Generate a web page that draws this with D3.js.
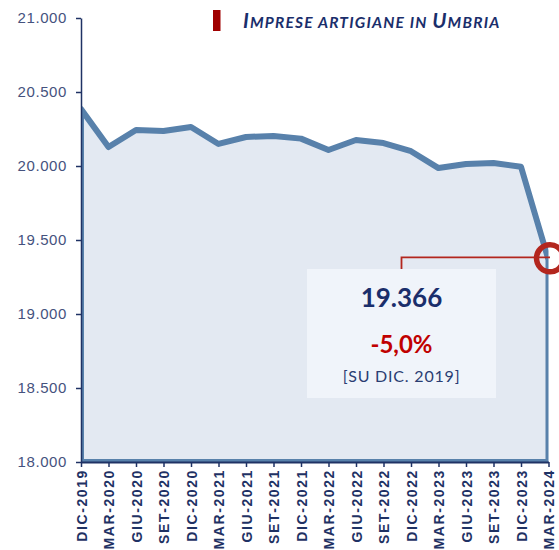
<!DOCTYPE html>
<html>
<head>
<meta charset="utf-8">
<script src="https://cdn.jsdelivr.net/npm/d3@7"></script>
<style>
  body { margin: 0; background: #fff; }
  svg { display: block; font-family: Lato, "Open Sans", sans-serif; }
</style>
</head>
<body>
<div id="chart"></div>
<script>
"use strict";

// categories (quarters) and number of artisan businesses
const periods = [
  "DIC-2019", "MAR-2020", "GIU-2020", "SET-2020", "DIC-2020", "MAR-2021",
  "GIU-2021", "SET-2021", "DIC-2021", "MAR-2022", "GIU-2022", "SET-2022",
  "DIC-2022", "MAR-2023", "GIU-2023", "SET-2023", "DIC-2023", "MAR-2024",
];
const imprese = [
  20385, 20128, 20243, 20236, 20264, 20149,
  20196, 20203, 20185, 20108, 20176, 20155,
  20100, 19986, 20014, 20020, 19995, 19366,
];
const yTicks = [18000, 18500, 19000, 19500, 20000, 20500, 21000];
const titleParts = [["I", "MPRESE ARTIGIANE IN "], ["U", "MBRIA"]];
const noteValue = "19.366";
const noteChange = "-5,0%";
const noteBase = "[SU DIC. 2019]";

const width = 559;
const height = 550;
const margin = { top: 18, right: 10.5, bottom: 88, left: 81 };

const it = d3.formatLocale({ decimal: ",", thousands: ".", grouping: [3], currency: ["", "€"] });
const fmt = it.format(",");

const svg = d3
  .select("#chart")
  .append("svg")
  .attr("width", width)
  .attr("height", height);

const x = d3
  .scalePoint()
  .domain(periods)
  .range([margin.left, width - margin.right]);

const y = d3
  .scaleLinear()
  .domain([18000, 21000])
  .range([height - margin.bottom, margin.top]);

const data = periods.map((p, i) => ({ p, v: imprese[i] }));

///////////////////////////////////
// area + line
///////////////////////////////////

svg
  .append("clipPath")
  .attr("id", "plot-clip")
  .append("rect")
  .attr("x", margin.left)
  .attr("y", 0)
  .attr("width", width - margin.right - margin.left)
  .attr("height", height - margin.bottom);

const area = d3
  .area()
  .x((d) => x(d.p))
  .y0(y(18000))
  .y1((d) => y(d.v));

svg
  .append("path")
  .datum(data)
  .attr("clip-path", "url(#plot-clip)")
  .attr("d", area)
  .attr("fill", "#e3e9f2")
  .attr("stroke", "#5881ab")
  .attr("stroke-width", 6)
  .attr("stroke-linejoin", "round");

///////////////////////////////////
// axes
///////////////////////////////////

const yAxis = svg
  .append("g")
  .attr("transform", `translate(${margin.left},0)`)
  .call(d3.axisLeft(y).tickValues(yTicks).tickFormat(fmt).tickSize(5).tickSizeOuter(0));
yAxis.select(".domain").attr("stroke", "#1f3264").attr("stroke-width", 1.5);
yAxis.selectAll(".tick line").attr("stroke", "#1f3264").attr("stroke-width", 1.5);
yAxis
  .selectAll(".tick text")
  .attr("x", -14)
  .attr("fill", "#45527e")
  .style("font-size", "15px")
  .style("letter-spacing", "0.6px");

const xAxis = svg
  .append("g")
  .attr("transform", `translate(0,${y(18000)})`)
  .call(d3.axisBottom(x).tickSize(5).tickSizeOuter(0));
xAxis.select(".domain").attr("stroke", "#1f3264").attr("stroke-width", 2);
xAxis.selectAll(".tick line").attr("stroke", "#1f3264").attr("stroke-width", 1.5);
xAxis
  .selectAll(".tick text")
  .attr("transform", "rotate(-90)")
  .attr("x", -7)
  .attr("y", 0)
  .attr("dy", "0.36em")
  .style("text-anchor", "end")
  .attr("fill", "#1f3264")
  .style("font-size", "14px")
  .style("font-weight", "900")
  .style("letter-spacing", "1.6px");

///////////////////////////////////
// title
///////////////////////////////////

svg
  .append("rect")
  .attr("x", 213)
  .attr("y", 10)
  .attr("width", 7.5)
  .attr("height", 21)
  .attr("fill", "#a00000");

const title = svg
  .append("text")
  .attr("x", 243)
  .attr("y", 27.5)
  .attr("fill", "#1a2e6b")
  .style("font-weight", "bold")
  .style("font-style", "italic")
  .style("letter-spacing", "1.2px");
titleParts.forEach(([big, small]) => {
  title.append("tspan").style("font-size", "20.5px").text(big);
  title.append("tspan").style("font-size", "15.5px").text(small);
});

///////////////////////////////////
// annotation
///////////////////////////////////

const last = data[data.length - 1];
const cx = x(last.p) + 1.5;
const cy = y(last.v) - 1.5;
const boxX = 307;
const boxY = 269;
const boxW = 189;
const boxH = 129;
const midX = boxX + boxW / 2;

svg
  .append("polyline")
  .attr("points", [[midX, boxY], [midX, cy - 1], [cx, cy - 1]].map((p) => p.join(",")).join(" "))
  .attr("fill", "none")
  .attr("stroke", "#b3261e")
  .attr("stroke-width", 1.8);

svg
  .append("rect")
  .attr("x", boxX)
  .attr("y", boxY)
  .attr("width", boxW)
  .attr("height", boxH)
  .attr("fill", "#f0f4fa");

svg
  .append("text")
  .attr("x", midX)
  .attr("y", 307)
  .attr("text-anchor", "middle")
  .attr("fill", "#1a2e6b")
  .style("font-size", "26px")
  .style("font-weight", "bold")
  .text(noteValue);

svg
  .append("text")
  .attr("x", midX)
  .attr("y", 353)
  .attr("text-anchor", "middle")
  .attr("fill", "#c00000")
  .style("font-size", "24px")
  .style("font-weight", "bold")
  .text(noteChange);

svg
  .append("text")
  .attr("x", midX)
  .attr("y", 382)
  .attr("text-anchor", "middle")
  .attr("fill", "#2a3d72")
  .style("font-size", "16px")
  .style("letter-spacing", "0.8px")
  .text(noteBase);

svg
  .append("circle")
  .attr("cx", cx)
  .attr("cy", cy)
  .attr("r", 13.5)
  .attr("fill", "none")
  .attr("stroke", "#b3261e")
  .attr("stroke-width", 5.5);
</script>
</body>
</html>
